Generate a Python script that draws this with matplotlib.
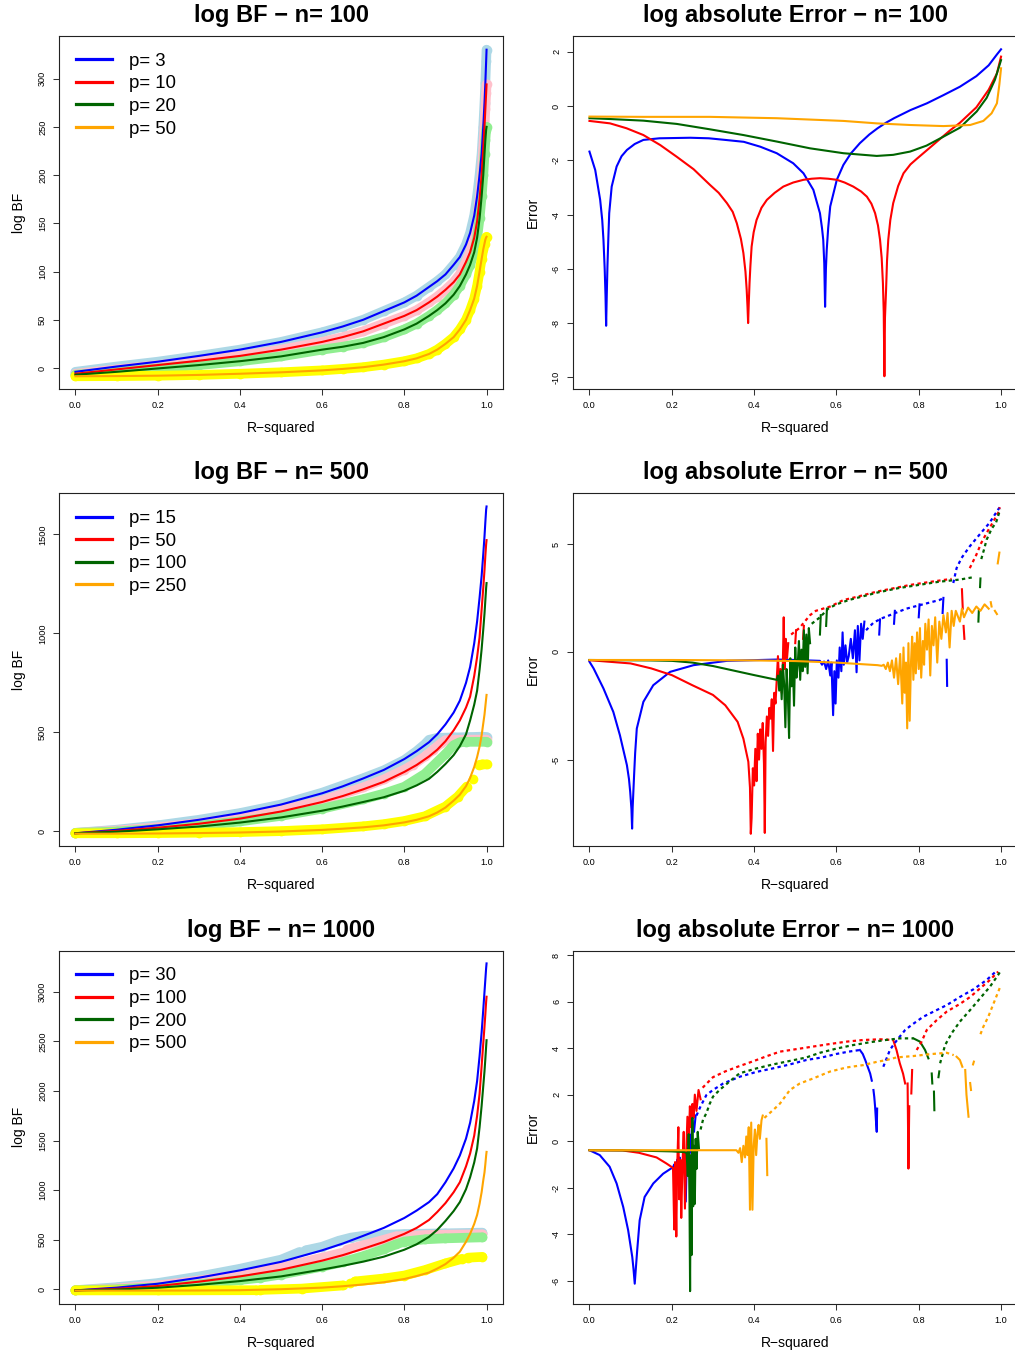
import numpy as np
import matplotlib
matplotlib.use("Agg")
import matplotlib.pyplot as plt
from matplotlib.lines import Line2D

plt.rcParams['font.family'] = ['Liberation Sans', 'DejaVu Sans']
plt.rcParams['axes.unicode_minus'] = False

nan = np.nan

# common R-squared grid for the approximation curves
r2_grid = [0, 0.1, 0.2, 0.3, 0.4, 0.5, 0.6, 0.65, 0.7, 0.75, 0.8, 0.83, 0.86, 0.88, 0.9, 0.92,
           0.935, 0.95, 0.96, 0.97, 0.977, 0.983, 0.988, 0.992, 0.995, 0.997, 0.999, 1.0]

# ---- n = 100 : log BF (exact and approximation lie on top of each other) ----
p_labels_100 = ["p= 3", "p= 10", "p= 20", "p= 50"]
bf100_p3 = [-4, 1.5, 6.5, 12.5, 19, 27, 37, 43, 50, 59, 68, 75, 84, 90, 97, 107,
            115, 128, 140, 158, 178, 200, 222, 250, 275, 295, 318, 330]
bf100_p10 = [-6, -1.5, 3, 7.5, 12.5, 19, 27, 32, 38, 46, 54, 60, 68, 74, 81, 89,
             97, 110, 120, 135, 152, 175, 200, 228, 250, 268, 285, 294]
bf100_p20 = [-7, -4, -0.5, 3, 7, 12, 19, 22, 26, 32, 40, 46, 54, 60, 67, 76,
             85, 97, 107, 120, 135, 155, 178, 200, 222, 236, 247, 250]
bf100_p50 = [-8.6, -8.4, -8, -7.2, -6, -4.5, -2.5, -1, 0.8, 3.5, 7, 10, 14.5, 19, 25, 32,
             40, 50, 60, 72, 85, 100, 113, 123, 129, 133, 135.5, 136]

# ---- n = 500 : log BF ----
p_labels_500 = ["p= 15", "p= 50", "p= 100", "p= 250"]
bf500_p15 = [-10, 8, 30, 58, 92, 135, 192, 227, 267, 310, 365, 405, 450, 490, 540, 600,
             660, 750, 830, 950, 1060, 1180, 1290, 1400, 1490, 1560, 1625, 1641]
bf500_p50 = [-10, 2, 18, 38, 64, 100, 148, 178, 212, 250, 300, 335, 378, 412, 455, 510,
             560, 625, 680, 785, 880, 980, 1120, 1230, 1320, 1390, 1450, 1471]
bf500_p100 = [-10, -2, 10, 24, 44, 70, 104, 125, 148, 172, 205, 232, 265, 300, 340, 385,
              430, 490, 560, 640, 710, 816, 920, 1020, 1100, 1165, 1230, 1254]
bf500_p250 = [-12, -12, -11, -9, -6, -1, 7, 13, 20, 30, 45, 58, 76, 95, 120, 155,
              185, 228, 270, 325, 375, 428, 485, 545, 590, 630, 670, 689]

ex500_p15_x = [0, 0.1, 0.2, 0.3, 0.4, 0.5, 0.6, 0.7, 0.75, 0.8, 0.83, 0.85, 0.86, 0.88, 0.92, 0.96, 0.99, 1.0]
ex500_p15_y = [-8, 8, 30, 58, 92, 135, 195, 268, 308, 360, 405, 440, 462, 472, 474, 476, 478, 476]
ex500_p50_x = [0, 0.1, 0.2, 0.3, 0.4, 0.5, 0.6, 0.7, 0.75, 0.8, 0.82, 0.85, 0.87, 0.89, 0.9, 0.95, 1.0]
ex500_p50_y = [-8, 4, 20, 41, 68, 106, 155, 222, 262, 312, 335, 378, 412, 446, 460, 463, 463]
ex500_p100_x = [0, 0.1, 0.2, 0.3, 0.4, 0.5, 0.6, 0.7, 0.75, 0.8, 0.85, 0.9, 0.92, 0.935, 0.95, 1.0]
ex500_p100_y = [-8, -1, 12, 28, 50, 78, 114, 162, 190, 225, 290, 390, 435, 450, 452, 452]
ex500_p250_x = [0, 0.1, 0.2, 0.3, 0.4, 0.5, 0.6, 0.7, 0.75, 0.8, 0.85, 0.9, 0.93, 0.952, nan, 0.967, nan, 0.982, 0.99, 1.0]
ex500_p250_y = [-10, -10, -9, -7, -4, 1, 10, 25, 36, 52, 76, 125, 175, 226, nan, 265, nan, 335, 338, 338]

# ---- n = 1000 : log BF ----
p_labels_1000 = ["p= 30", "p= 100", "p= 200", "p= 500"]
bf1000_p30 = [-10, 18, 57, 118, 192, 278, 394, 462, 540, 620, 720, 795, 880, 960, 1080, 1220,
              1350, 1520, 1680, 1900, 2100, 2350, 2590, 2820, 3000, 3120, 3240, 3286]
bf1000_p100 = [-10, 6, 34, 78, 131, 198, 290, 345, 410, 478, 560, 620, 700, 780, 870, 980,
               1080, 1240, 1370, 1550, 1750, 1970, 2250, 2480, 2650, 2770, 2900, 2950]
bf1000_p200 = [-10, -2, 17, 46, 84, 131, 200, 238, 280, 330, 400, 455, 530, 600, 690, 790,
               880, 1010, 1130, 1280, 1420, 1634, 1850, 2050, 2200, 2320, 2450, 2512]
bf1000_p500 = [-12, -12, -12, -11, -8, 2, 18, 32, 50, 72, 105, 135, 170, 210, 255, 320,
               380, 480, 560, 660, 750, 863, 980, 1100, 1180, 1260, 1350, 1386]

ex1000_p30_x = [0, 0.1, 0.2, 0.3, 0.4, 0.5, 0.545, nan, 0.56, 0.6, 0.64, 0.67, 0.7, 0.75, 0.8, 0.9, 0.99]
ex1000_p30_y = [-8, 22, 64, 130, 208, 300, 377, nan, 394, 430, 490, 522, 540, 550, 558, 565, 572]
ex1000_p100_x = [0, 0.1, 0.2, 0.3, 0.4, 0.5, 0.6, 0.65, nan, 0.66, 0.7, 0.75, 0.78, 0.85, 0.9, 0.99]
ex1000_p100_y = [-8, 10, 40, 90, 150, 220, 320, 370, nan, 400, 445, 500, 535, 548, 552, 555]
ex1000_p200_x = [0, 0.1, 0.2, 0.3, 0.4, 0.45, 0.5, 0.6, 0.65, 0.7, 0.75, 0.78, 0.8, 0.85, 0.9, 0.99]
ex1000_p200_y = [-8, 2, 20, 50, 95, 118, 150, 230, 275, 335, 405, 455, 482, 505, 515, 525]
ex1000_p500_x = [0, 0.2, 0.44, nan, 0.45, 0.55, 0.65, nan, 0.667, nan, 0.68, 0.75, 0.8, 0.85, 0.9, 0.94, nan, 0.955, 0.99]
ex1000_p500_y = [-10, -10, -8, nan, -5, 8, 40, nan, 62, nan, 80, 110, 140, 195, 262, 308, nan, 320, 328]

# ---- log absolute error, n = 100 : (R-squared, error) ----
err100_p3 = [(0, -1.68), (0.014, -2.36), (0.026, -3.46), (0.031, -4.2), (0.034, -4.93), (0.037, -6.0),
             (0.039, -7.0), (0.0405, -8.1), (0.042, -7.0), (0.0437, -5.9), (0.046, -4.8), (0.048, -3.95),
             (0.054, -2.97), (0.066, -2.23), (0.078, -1.85), (0.091, -1.62), (0.11, -1.4), (0.131, -1.25),
             (0.17, -1.19), (0.245, -1.17), (0.29, -1.19), (0.33, -1.25), (0.375, -1.32), (0.415, -1.5),
             (0.455, -1.74), (0.495, -2.11), (0.52, -2.48), (0.544, -3.09), (0.56, -3.95), (0.565, -4.5),
             (0.568, -4.93), (0.5705, -5.8), (0.5725, -7.4), (0.5745, -6.0), (0.5765, -5.3), (0.58, -4.5),
             (0.585, -3.7), (0.601, -2.72), (0.617, -2.17), (0.635, -1.75), (0.657, -1.37), (0.68, -1.05),
             (0.7, -0.82), (0.72, -0.62), (0.74, -0.45), (0.76, -0.3), (0.78, -0.15), (0.82, 0.1),
             (0.86, 0.4), (0.9, 0.71), (0.94, 1.1), (0.97, 1.5), (0.99, 1.9), (1.0, 2.09)]
err100_p10 = [(0, -0.55), (0.05, -0.64), (0.09, -0.82), (0.131, -1.07), (0.172, -1.44), (0.212, -1.87),
              (0.253, -2.33), (0.293, -2.91), (0.314, -3.2), (0.334, -3.58), (0.348, -3.9), (0.358, -4.32),
              (0.368, -4.9), (0.374, -5.42), (0.379, -6.1), (0.382, -6.77), (0.384, -7.4), (0.3855, -8.0),
              (0.387, -7.3), (0.389, -6.5), (0.391, -5.9), (0.394, -5.18), (0.399, -4.65), (0.406, -4.2),
              (0.418, -3.75), (0.431, -3.46), (0.45, -3.2), (0.471, -2.97), (0.495, -2.82), (0.52, -2.72),
              (0.54, -2.68), (0.56, -2.66), (0.58, -2.68), (0.601, -2.72), (0.62, -2.82), (0.641, -2.97),
              (0.66, -3.15), (0.674, -3.34), (0.685, -3.6), (0.694, -3.95), (0.701, -4.4), (0.706, -4.93),
              (0.71, -5.6), (0.713, -6.53), (0.715, -7.6), (0.7166, -9.96), (0.718, -7.8), (0.7206, -6.8),
              (0.723, -5.7), (0.726, -4.93), (0.731, -4.2), (0.738, -3.58), (0.75, -2.95), (0.763, -2.48),
              (0.78, -2.15), (0.795, -1.95), (0.836, -1.42), (0.876, -0.9), (0.9, -0.62), (0.94, -0.05),
              (0.97, 0.6), (0.99, 1.2), (1.0, 1.82)]
err100_p20 = [(0, -0.45), (0.05, -0.48), (0.131, -0.54), (0.212, -0.66), (0.293, -0.86), (0.374, -1.07),
              (0.455, -1.31), (0.536, -1.56), (0.617, -1.74), (0.698, -1.84), (0.738, -1.80), (0.779, -1.68),
              (0.819, -1.46), (0.86, -1.13), (0.9, -0.8), (0.941, -0.2), (0.965, 0.3), (0.985, 0.96), (1.0, 1.69)]
err100_p50 = [(0, -0.39), (0.131, -0.40), (0.293, -0.40), (0.455, -0.45), (0.617, -0.55), (0.698, -0.64),
              (0.779, -0.70), (0.86, -0.74), (0.925, -0.70), (0.957, -0.55), (0.977, -0.27), (0.99, 0.1),
              (0.996, 0.8), (1.0, 1.39)]

# ---- log absolute error, n = 500 (solid parts and broken/dotted parts) ----
err500_p15 = [(0, -0.46), (0.01, -0.77), (0.034, -1.7), (0.058, -2.79), (0.074, -3.87), (0.091, -5.26),
              (0.096, -5.9), (0.099, -6.5), (0.102, -7.3), (0.1036, -8.2), (0.105, -7.2), (0.1085, -5.7),
              (0.111, -4.7), (0.115, -3.56), (0.131, -2.32), (0.155, -1.55), (0.196, -0.93), (0.253, -0.62),
              (0.334, -0.42), (0.455, -0.36), (0.5, -0.38), (0.53, -0.4),
              (0.56, -0.42), (0.565, -0.6), (0.57, -0.45), (0.575, -0.8), (0.58, -0.4), (0.585, -1.1),
              (0.588, -0.5), (0.592, -2.94), (0.595, -0.9), (0.598, -2.4), (0.601, -0.4), (0.605, -1.2),
              (0.608, 0.2), (0.612, -0.9), (0.615, 0.9), (0.618, -0.6), (0.622, 0.3), (0.626, -0.5),
              (0.63, -0.2), (0.635, 0.6), (0.64, -0.3), (0.645, 1.0), (0.649, -0.95), (0.652, 1.2),
              (0.656, -0.4), (0.66, 1.3), (0.664, 0.6), (0.668, 1.4), (nan, nan), (0.704, 0.8), (0.706, 1.5),
              (nan, nan), (0.74, 1.3), (0.742, 1.9), (nan, nan), (0.8, 1.6), (0.802, 2.2), (nan, nan),
              (0.858, 1.8), (0.86, 2.5), (nan, nan), (0.868, -0.37), (0.869, -1.58)]
err500_p15_dots = [(0.672, 1.0), (0.69, 1.35), (0.71, 1.55), (0.73, 1.7), (0.75, 1.85), (0.77, 2.0), (0.79, 2.1),
                   (0.81, 2.2), (0.83, 2.3), (0.85, 2.4), (0.862, 2.5), (nan, nan), (0.884, 3.19), (0.892, 3.88),
                   (0.904, 4.35), (0.924, 4.89), (0.948, 5.44), (0.972, 5.98), (0.993, 6.6), (0.999, 6.75)]
err500_p50 = [(0, -0.39), (0.1, -0.54), (0.15, -0.77), (0.2, -1.08), (0.25, -1.55), (0.3, -2.0), (0.33, -2.48),
              (0.36, -3.25), (0.374, -4.03), (0.386, -5.1), (0.39, -6.3), (0.392, -8.44), (0.394, -7.7),
              (0.397, -5.4), (0.4, -6.2), (0.403, -4.5), (0.406, -6.0), (0.409, -3.8), (0.412, -5.0),
              (0.415, -3.6), (0.418, -4.5), (0.421, -3.3), (0.424, -5.2), (0.426, -8.4), (0.428, -4.2),
              (0.431, -3.0), (0.434, -3.9), (0.437, -2.6), (0.44, -3.1), (0.443, -2.2), (0.446, -4.6),
              (0.449, -1.9), (0.452, -2.4), (0.455, -1.3), (0.458, -0.2), (0.461, -1.6), (0.464, -0.8),
              (0.467, -1.9), (0.47, -0.4), (0.472, 1.6), (0.474, -0.8), (0.477, 0.6), (0.48, -0.3),
              (0.483, 0.4), (nan, nan), (0.5, 0.4), (0.502, 1.0), (nan, nan), (0.519, 0.6), (0.521, 1.2),
              (nan, nan), (0.905, 2.9), (0.907, 2.0), (nan, nan), (0.909, 1.2), (0.911, 0.6)]
err500_p50_dots = [(0.49, 0.8), (0.51, 1.1), (0.536, 1.7), (0.55, 1.9), (0.585, 2.1), (0.617, 2.4), (0.65, 2.55),
                   (0.698, 2.79), (0.74, 2.95), (0.779, 3.1), (0.82, 3.22), (0.86, 3.33), (0.88, 3.38),
                   (nan, nan), (0.924, 3.88), (0.94, 4.5), (0.952, 5.05), (0.965, 5.51), (0.977, 5.9),
                   (0.993, 6.44), (0.997, 6.7)]
err500_p100 = [(0, -0.38), (0.15, -0.40), (0.2, -0.42), (0.25, -0.5), (0.3, -0.66), (0.35, -0.87), (0.4, -1.08),
               (0.44, -1.24), (0.455, -1.3), (0.458, -1.1), (0.461, -1.8), (0.464, -0.9), (0.467, -2.2),
               (0.47, -0.6), (0.473, -1.5), (0.476, -3.5), (0.479, -0.8), (0.482, -2.0), (0.485, -4.0),
               (0.488, -0.3), (0.491, -1.6), (0.494, -0.5), (0.497, -2.5), (0.5, 0.2), (0.503, -1.2),
               (0.506, -0.6), (0.509, 0.5), (0.512, -1.3), (0.515, 0.1), (0.518, -0.9), (0.521, 1.0),
               (0.524, -0.7), (0.527, 0.8), (0.53, -1.0), (0.533, 1.1), (0.536, 0.4), (nan, nan),
               (0.56, 0.8), (0.562, 1.7), (nan, nan), (0.575, 1.2), (0.577, 2.0), (nan, nan),
               (0.945, 1.4), (0.946, 1.9), (nan, nan), (0.949, 3.0), (0.95, 3.4)]
err500_p100_dots = [(0.54, 1.3), (0.56, 1.6), (0.58, 2.0), (0.6, 2.2), (0.63, 2.4), (0.66, 2.55), (0.7, 2.75),
                    (0.75, 2.95), (0.8, 3.1), (0.85, 3.25), (0.9, 3.35), (0.93, 3.45), (nan, nan),
                    (0.952, 4.3), (0.958, 4.7), (0.965, 5.2), (0.977, 5.7), (0.988, 6.0), (0.998, 6.6)]
err500_p250 = [(0, -0.38), (0.2, -0.38), (0.4, -0.40), (0.5, -0.43), (0.6, -0.50), (0.65, -0.56), (0.7, -0.62),
               (0.71, -0.65), (0.715, -0.6), (0.72, -0.8), (0.725, -0.5), (0.73, -0.9), (0.735, -0.4),
               (0.74, -1.2), (0.745, -0.3), (0.75, -1.5), (0.755, -0.1), (0.76, -2.4), (0.763, 0.2),
               (0.766, -1.9), (0.769, -0.5), (0.772, -3.55), (0.775, 0.4), (0.778, -3.2), (0.781, -0.6),
               (0.784, 0.7), (0.787, -1.3), (0.79, 0.4), (0.793, -1.0), (0.796, 0.9), (0.8, -0.8),
               (0.803, 1.1), (0.806, -1.2), (0.81, 0.5), (0.813, -0.6), (0.816, 1.3), (0.82, 0.1),
               (0.824, 1.5), (0.828, -1.1), (0.832, 1.2), (0.836, 0.3), (0.84, 1.6), (0.845, -0.5),
               (0.85, 1.4), (0.855, 0.6), (0.86, 1.7), (0.866, 0.9), (0.87, 1.8), (0.875, 0.2), (0.88, 1.9),
               (0.885, 1.2), (0.89, 1.9), (0.9, 1.4), (0.905, 2.0), (0.91, 1.6), (0.92, 2.05), (0.93, 1.8),
               (0.94, 2.1), (0.95, 1.9), (0.96, 2.2), (0.97, 2.0), (nan, nan), (0.975, 2.3), (0.977, 2.1),
               (nan, nan), (0.985, 1.9), (0.99, 1.75), (nan, nan), (0.992, 4.1), (0.996, 4.6)]

# ---- log absolute error, n = 1000 ----
err1000_p30 = [(0, -0.39), (0.025, -0.6), (0.049, -1.1), (0.066, -1.82), (0.082, -2.83), (0.094, -3.83),
               (0.104, -4.98), (0.107, -5.5), (0.11, -6.13), (0.113, -5.4), (0.116, -4.69), (0.122, -3.4),
               (0.134, -2.4), (0.155, -1.82), (0.179, -1.4), (0.203, -1.12), (0.206, -1.0), (0.21, -1.5),
               (0.213, -0.8), (0.216, -1.7), (0.219, -0.7), (0.222, -2.2), (0.225, -0.9), (0.228, -1.3),
               (0.231, -0.5), (0.234, -2.6), (0.237, -0.3), (0.24, -1.0), (0.243, 0.3), (0.246, -0.5),
               (0.25, 0.9), (0.254, 0.4), (0.258, 1.1), (nan, nan), (0.657, 3.92), (0.664, 3.75),
               (0.67, 3.49), (0.676, 3.2), (0.682, 2.91), (0.686, 2.6), (nan, nan), (0.69, 2.2), (0.692, 1.9),
               (0.694, 1.48), (0.696, 0.9), (0.698, 0.4), (0.699, 1.4)]
err1000_p30_dots = [(0.26, 1.1), (0.27, 1.5), (0.284, 1.98), (0.3, 2.2), (0.325, 2.48), (0.365, 2.77),
                    (0.406, 2.98), (0.446, 3.13), (0.487, 3.3), (0.527, 3.49), (0.565, 3.6), (0.6, 3.75),
                    (0.63, 3.85), (0.657, 3.92), (nan, nan), (0.714, 3.2), (0.73, 3.92), (0.738, 4.13),
                    (0.7505, 4.42), (0.767, 4.78), (0.783, 5.0), (0.811, 5.35), (0.836, 5.57), (0.868, 5.85),
                    (0.9, 6.2), (0.933, 6.53), (0.965, 6.93), (0.9895, 7.33)]
err1000_p100 = [(0, -0.39), (0.08, -0.4), (0.12, -0.5), (0.163, -0.7), (0.187, -0.96), (0.203, -1.15),
                (0.206, -3.8), (0.208, -0.9), (0.211, -4.1), (0.213, -1.2), (0.216, 0.6), (0.218, -2.5),
                (0.221, -0.8), (0.223, -3.3), (0.226, -1.0), (0.229, 0.4), (0.232, -2.9), (0.235, -0.6),
                (0.238, 1.05), (0.241, -0.2), (0.244, 1.5), (0.247, 0.6), (0.25, 1.6), (0.253, 1.0),
                (0.256, 2.0), (0.26, 1.3), (0.265, 2.2), (0.27, 1.8), (nan, nan), (0.738, 4.35),
                (0.746, 3.92), (0.754, 3.35), (0.762, 2.9), (0.767, 2.48), (nan, nan), (0.773, 2.48),
                (0.775, -1.18), (0.777, 1.5), (nan, nan), (0.782, 2.05), (0.784, 3.06)]
err1000_p100_dots = [(0.275, 2.3), (0.3, 2.75), (0.33, 3.0), (0.36, 3.2), (0.4, 3.45), (0.43, 3.65),
                     (0.463, 3.85), (0.5, 3.95), (0.544, 4.07), (0.585, 4.18), (0.625, 4.28), (0.665, 4.35),
                     (0.706, 4.38), (0.738, 4.35), (nan, nan), (0.795, 3.92), (0.807, 4.28), (0.8195, 4.78),
                     (0.844, 5.21), (0.868, 5.57), (0.9, 5.9), (0.925, 6.2), (0.949, 6.57), (0.973, 6.93),
                     (0.993, 7.29)]
err1000_p200 = [(0, -0.39), (0.1, -0.4), (0.2, -0.44), (0.23, -0.47), (0.236, -0.5), (0.239, -1.5),
                (0.241, 0.3), (0.243, -2.5), (0.2445, -6.45), (0.246, -0.6), (0.248, -4.9), (0.25, 1.0),
                (0.252, -2.8), (0.254, -0.2), (0.256, -2.7), (0.258, 0.1), (0.26, -1.2), (0.263, 0.4),
                (0.266, -0.3), (nan, nan), (0.787, 4.42), (0.803, 4.28), (0.8154, 3.92), (0.8235, 3.56),
                (nan, nan), (0.8316, 2.91), (0.833, 2.48), (nan, nan), (0.837, 2.13), (0.838, 1.33),
                (nan, nan), (0.848, 2.75), (0.85, 3.0)]
err1000_p200_dots = [(0.27, 0.5), (0.276, 0.93), (0.284, 1.2), (0.292, 1.6), (0.3, 1.91), (0.316, 2.2),
                     (0.34, 2.56), (0.365, 2.92), (0.406, 3.13), (0.446, 3.3), (0.487, 3.45), (0.527, 3.6),
                     (0.56, 3.8), (0.6, 3.98), (0.64, 4.13), (0.68, 4.25), (0.72, 4.35), (0.754, 4.42),
                     (0.787, 4.42), (nan, nan), (0.852, 3.35), (0.864, 4.13), (0.88, 4.64), (0.9, 5.14),
                     (0.925, 5.64), (0.949, 6.14), (0.973, 6.64), (0.993, 7.15), (0.998, 7.29)]
err1000_p500 = [(0, -0.39), (0.1, -0.39), (0.2, -0.39), (0.3, -0.39), (0.357, -0.39), (0.362, -0.5),
                (0.366, -0.3), (0.37, -0.9), (0.374, -0.2), (0.378, -0.7), (0.381, 0.2), (0.384, -0.6),
                (0.387, 0.6), (0.39, -2.95), (0.393, 0.8), (0.396, -2.95), (0.399, -0.2), (0.402, 0.5),
                (0.405, -0.6), (0.408, 0.3), (0.411, 0.7), (0.414, 0.1), (0.418, 0.9), (0.421, 1.1),
                (nan, nan), (0.43, 0.1), (0.432, -1.46), (nan, nan), (0.892, 3.63), (0.9, 3.49), (0.906, 3.2),
                (nan, nan), (0.913, 3.06), (0.916, 2.0), (0.921, 1.05), (nan, nan), (0.925, 2.5), (0.927, 2.2),
                (nan, nan), (0.932, 3.3), (0.934, 3.42)]
err1000_p500_dots = [(0.425, 1.0), (0.45, 1.4), (0.463, 1.62), (0.487, 2.2), (0.511, 2.48), (0.544, 2.7),
                     (0.584, 2.99), (0.625, 3.17), (0.665, 3.27), (0.698, 3.41), (0.722, 3.49), (0.746, 3.6),
                     (0.787, 3.66), (0.827, 3.74), (0.868, 3.8), (0.885, 3.7), (nan, nan), (0.95, 4.6),
                     (0.957, 4.92), (0.969, 5.35), (0.985, 6.06), (0.998, 6.64)]

approx_cols = ['#0000FF', '#FF0000', '#006400', '#FFA500']
exact_cols = ['#ADD8E6', '#FFC0CB', '#90EE90', '#FFFF00']

W, H = 1015.0, 1353.0
fig = plt.figure(figsize=(W / 100, H / 100), dpi=100)


def panel(left, top, width=444.5, height=353.0):
    return fig.add_axes([left / W, 1 - (top + height) / H, width / W, height / H])


def xy(pts):
    a = np.array(pts, dtype=float)
    return a[:, 0], a[:, 1]


def style(ax, title, ylabel, ylim, yticks):
    ax.set_xlim(-0.04, 1.04)
    ax.set_ylim(*ylim)
    ax.set_xticks([0, 0.2, 0.4, 0.6, 0.8, 1.0])
    ax.set_xticklabels(['0.0', '0.2', '0.4', '0.6', '0.8', '1.0'])
    ax.set_yticks(yticks)
    ax.set_yticklabels([str(t) for t in yticks])
    ax.tick_params(direction='out', length=4.1, width=0.75, labelsize=6.6, pad=4.5, color='#333333')
    for lab in ax.get_yticklabels():
        lab.set_rotation(90)
        lab.set_va('center')
    for s in ax.spines.values():
        s.set_linewidth(0.8)
        s.set_color('#222222')
    ax.set_title(title, fontsize=17, fontweight='bold', pad=10)
    ax.set_xlabel("R\u2212squared", fontsize=10)
    ax.xaxis.set_label_coords(0.5, -39 / 353)
    ax.xaxis.label.set_va('center')
    ax.set_ylabel(ylabel, fontsize=10)
    ax.yaxis.set_label_coords(-40 / 444, 0.5)
    ax.yaxis.label.set_va('center')


def bf_panel(ax, exact, approx, labels):
    for (ex, ey), c in zip(exact, exact_cols):
        ax.plot(ex, ey, '-', color=c, lw=7, marker='o', ms=7, mec='none',
                solid_capstyle='round', solid_joinstyle='round')
    for ay, c in zip(approx, approx_cols):
        ax.plot(r2_grid, ay, '-', color=c, lw=1.5)
    handles = [Line2D([], [], color=c, lw=2.3) for c in approx_cols]
    ax.legend(handles, labels, loc='upper left', frameon=False, fontsize=13.4,
              handlelength=1.94, handletextpad=0.9, labelspacing=0.3,
              borderpad=0.45, borderaxespad=0.45)


def err_panel(ax, solid, dots):
    for pts, c in zip(solid, approx_cols):
        x, y = xy(pts)
        ax.plot(x, y, '-', color=c, lw=1.5)
    for pts, c in zip(dots, approx_cols):
        if pts is None:
            continue
        x, y = xy(pts)
        ax.plot(x, y, color=c, lw=1.6, linestyle=(0, (1.5, 1.5)))


rows = [36.0, 493.3, 950.7]

# row 1 : n = 100
ax = panel(59, rows[0], 444)
g = r2_grid
bf_panel(ax, [(g, bf100_p3), (g, bf100_p10), (g, bf100_p20), (g, bf100_p50)],
         [bf100_p3, bf100_p10, bf100_p20, bf100_p50], p_labels_100)
style(ax, "log BF \u2212 n= 100", "log BF", (-21.8, 344.2), [0, 50, 100, 150, 200, 250, 300])

ax = panel(573, rows[0])
err_panel(ax, [err100_p3, err100_p10, err100_p20, err100_p50], [None, None, None, None])
style(ax, "log absolute Error \u2212 n= 100", "Error", (-10.43, 2.58), [-10, -8, -6, -4, -2, 0, 2])

# row 2 : n = 500
ax = panel(59, rows[1], 444)
bf_panel(ax, [(ex500_p15_x, ex500_p15_y), (ex500_p50_x, ex500_p50_y),
              (ex500_p100_x, ex500_p100_y), (ex500_p250_x, ex500_p250_y)],
         [bf500_p15, bf500_p50, bf500_p100, bf500_p250], p_labels_500)
style(ax, "log BF \u2212 n= 500", "log BF", (-75.8, 1707.5), [0, 500, 1000, 1500])

ax = panel(573, rows[1])
err_panel(ax, [err500_p15, err500_p50, err500_p100, err500_p250],
          [err500_p15_dots, err500_p50_dots, err500_p100_dots, None])
style(ax, "log absolute Error \u2212 n= 500", "Error", (-9.02, 7.35), [-5, 0, 5])

# row 3 : n = 1000
ax = panel(59, rows[2], 444)
bf_panel(ax, [(ex1000_p30_x, ex1000_p30_y), (ex1000_p100_x, ex1000_p100_y),
              (ex1000_p200_x, ex1000_p200_y), (ex1000_p500_x, ex1000_p500_y)],
         [bf1000_p30, bf1000_p100, bf1000_p200, bf1000_p500], p_labels_1000)
style(ax, "log BF \u2212 n= 1000", "log BF", (-144, 3414), [0, 500, 1000, 1500, 2000, 2500, 3000])

ax = panel(573, rows[2])
err_panel(ax, [err1000_p30, err1000_p100, err1000_p200, err1000_p500],
          [err1000_p30_dots, err1000_p100_dots, err1000_p200_dots, err1000_p500_dots])
style(ax, "log absolute Error \u2212 n= 1000", "Error", (-6.99, 8.19), [-6, -4, -2, 0, 2, 4, 6, 8])

fig.savefig("out.png", dpi=100)
